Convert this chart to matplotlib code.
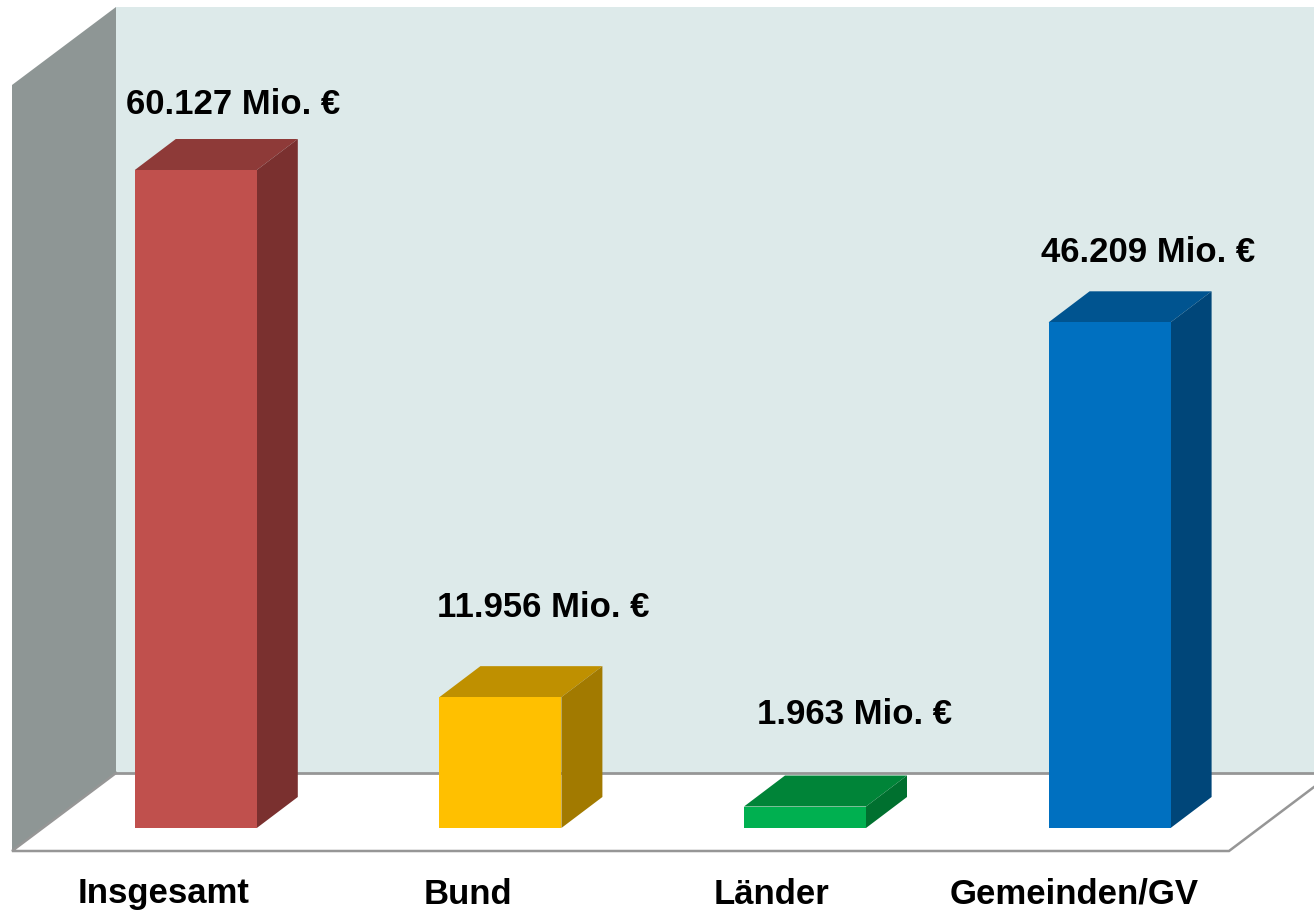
import matplotlib
matplotlib.use("Agg")
import matplotlib.pyplot as plt
from matplotlib.patches import Polygon
from matplotlib.transforms import Affine2D

plt.rcParams['font.family'] = ['Liberation Sans', 'DejaVu Sans']

categories = ["Insgesamt", "Bund", "Länder", "Gemeinden/GV"]
values = [60127, 11956, 1963, 46209]
value_labels = ["60.127 Mio. €", "11.956 Mio. €", "1.963 Mio. €", "46.209 Mio. €"]

front_colors = ["#C0504D", "#FFC000", "#00B050", "#0070C0"]
top_colors = ["#8E3A38", "#BF9000", "#008438", "#005490"]
side_colors = ["#7A302F", "#A27A00", "#00702F", "#004679"]

W, H = 1314, 910
PX_PER_CAT = 304.6
PX_PER_VAL = 658 / 60127
BASE_Y = 828
FIRST_X = 195.8
BAR_PX = 122
DEPTH_X, DEPTH_Y = 41, 31
# label offset from the bar's top centre, in pixels (right, up)
LABEL_OFF = [(37, 66), (43, 90), (50, 92), (39, 70)]
CAT_OFF_X = [-32, -32, -34, -35]
CAT_OFF_Y = -66
FONT_SIZE = 25
PT = 0.72

fig = plt.figure(figsize=(W / 100, H / 100), dpi=100, facecolor="white")
ax = fig.add_axes([0, 0, 1, 1])
ax.set_xlim(-FIRST_X / PX_PER_CAT, (W - FIRST_X) / PX_PER_CAT)
ax.set_ylim((BASE_Y - H) / PX_PER_VAL, BASE_Y / PX_PER_VAL)
ax.axis("off")

# room: walls and floor, in pixel coordinates (y downward)
px = Affine2D().scale(1, -1).translate(0, H)
ax.add_patch(Polygon([(116, 7), (1314, 7), (1314, 773), (116, 773)], closed=True,
                     fc="#DDEAEA", ec="none", transform=px, zorder=1))
ax.add_patch(Polygon([(12, 85), (116, 7), (116, 773), (12, 851)], closed=True,
                     fc="#8E9695", ec="none", transform=px, zorder=2))
ax.plot([116, 1314], [773, 773], color="#969696", lw=2.0, transform=px, zorder=3)
ax.plot([116, 12, 1229, 1314], [773, 851, 851, 787], color="#969696", lw=1.8,
        transform=px, zorder=3, solid_joinstyle="miter")

# bars
dx = DEPTH_X / PX_PER_CAT
dy = DEPTH_Y / PX_PER_VAL
w = BAR_PX / PX_PER_CAT
xs = list(range(len(categories)))
ax.bar(xs, values, width=w, color=front_colors, edgecolor="none", zorder=5)
for x, v, tc, sc in zip(xs, values, top_colors, side_colors):
    l, r = x - w / 2, x + w / 2
    ax.add_patch(Polygon([(l, v), (r, v), (r + dx, v + dy), (l + dx, v + dy)],
                         closed=True, fc=tc, ec="none", zorder=4))
    ax.add_patch(Polygon([(r, 0), (r + dx, dy), (r + dx, v + dy), (r, v)],
                         closed=True, fc=sc, ec="none", zorder=4))

for x, v, lab, (ox, oy) in zip(xs, values, value_labels, LABEL_OFF):
    ax.annotate(lab, xy=(x, v), xytext=(ox * PT, oy * PT),
                textcoords="offset points", ha="center", va="center",
                fontsize=FONT_SIZE, fontweight="bold", color="black", zorder=6)

for x, name, ox in zip(xs, categories, CAT_OFF_X):
    ax.annotate(name, xy=(x, 0), xytext=(ox * PT, CAT_OFF_Y * PT),
                textcoords="offset points", ha="center", va="center",
                fontsize=FONT_SIZE, fontweight="bold", color="black", zorder=6)

fig.savefig("out.png", dpi=100, facecolor="white")
